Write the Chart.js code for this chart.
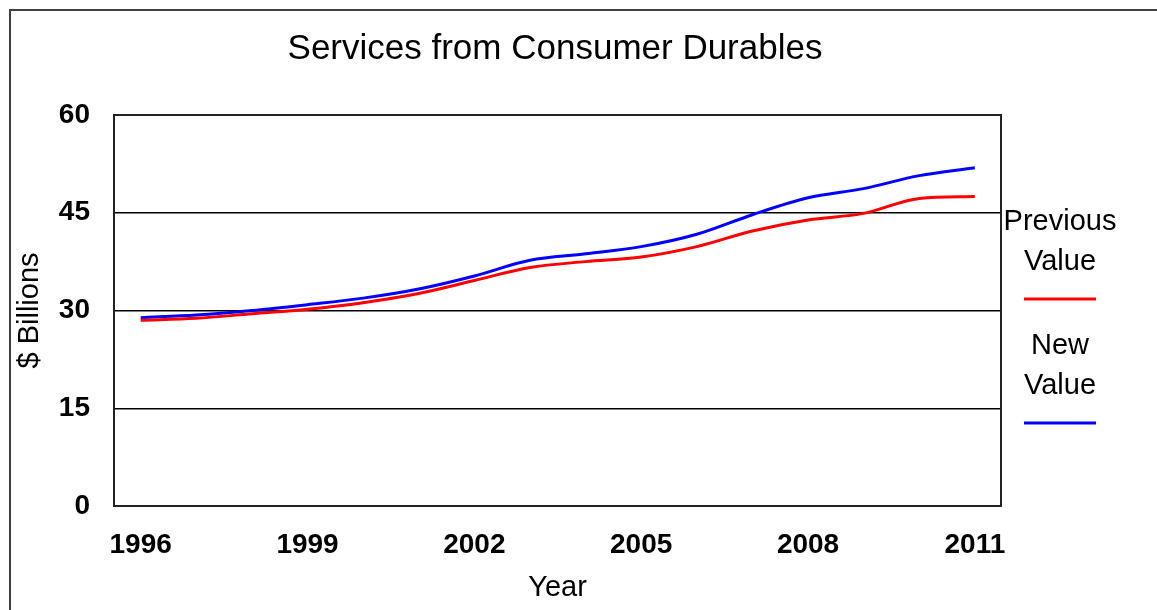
<!DOCTYPE html>
<html>
<head>
<meta charset="utf-8">
<script src="https://cdn.jsdelivr.net/npm/chart.js@4.4.1/dist/chart.umd.min.js"></script>
<style>
  html, body { margin: 0; padding: 0; background: #fff; }
  #wrap { position: relative; width: 1157px; height: 610px; }
</style>
</head>
<body>
<div id="wrap"><canvas id="chart" width="1157" height="610"></canvas></div>
<script>
// yearly values, $ billions
const years = [1996, 1997, 1998, 1999, 2000, 2001, 2002, 2003, 2004, 2005, 2006, 2007, 2008, 2009, 2010, 2011]
const previousValue = [28.5, 28.8, 29.5, 30.2, 31.2, 32.6, 34.6, 36.6, 37.5, 38.2, 39.8, 42.2, 43.9, 44.9, 47.2, 47.5]
const newValue = [28.9, 29.3, 30.0, 30.9, 31.9, 33.3, 35.3, 37.7, 38.7, 39.8, 41.7, 44.7, 47.3, 48.7, 50.7, 51.9]
const xTicks = [1996, 1999, 2002, 2005, 2008, 2011]
const yTicks = [0, 15, 30, 45, 60]

const FONT = "'Liberation Sans', Arial, sans-serif"

// outer frame, plot box and the stacked legend on the right
const decorations = {
    id: 'decorations',
    beforeDraw(chart) {
        const ctx = chart.ctx
        ctx.save()
        ctx.fillStyle = '#fff'
        ctx.fillRect(0, 0, chart.width, chart.height)
        ctx.strokeStyle = '#404040'
        ctx.lineWidth = 2
        ctx.beginPath()
        ctx.moveTo(10, chart.height)
        ctx.lineTo(10, 10)
        ctx.lineTo(chart.width, 10)
        ctx.stroke()
        ctx.restore()
    },
    afterDraw(chart) {
        const ctx = chart.ctx
        const a = chart.chartArea
        ctx.save()
        ctx.strokeStyle = '#222'
        ctx.lineWidth = 2
        ctx.strokeRect(a.left, a.top, a.right - a.left, a.bottom - a.top)

        // legend: label split over two lines, swatch line underneath
        const cx = 1060
        let y = 222
        ctx.font = '29px ' + FONT
        ctx.textAlign = 'center'
        ctx.textBaseline = 'middle'
        chart.data.datasets.forEach((ds) => {
            ds.label.split(' ').forEach((word) => {
                ctx.fillStyle = '#000'
                ctx.fillText(word, cx, y)
                y += 40
            })
            ctx.strokeStyle = ds.borderColor
            ctx.lineWidth = 3
            ctx.beginPath()
            ctx.moveTo(cx - 36, y - 3)
            ctx.lineTo(cx + 36, y - 3)
            ctx.stroke()
            y += 44
        })
        ctx.restore()
    }
}

new Chart(document.getElementById('chart'), {
    type: 'line',
    data: {
        datasets: [
            {
                label: 'Previous Value',
                data: years.map((yr, i) => ({ x: yr, y: previousValue[i] })),
                borderColor: '#ff0000',
                borderWidth: 3,
                pointRadius: 0,
                cubicInterpolationMode: 'monotone',
            },
            {
                label: 'New Value',
                data: years.map((yr, i) => ({ x: yr, y: newValue[i] })),
                borderColor: '#0000ff',
                borderWidth: 3,
                pointRadius: 0,
                cubicInterpolationMode: 'monotone',
            },
        ]
    },
    options: {
        responsive: false,
        animation: false,
        layout: { padding: { left: 0, right: 47, top: 0, bottom: 0 } },
        plugins: {
            legend: { display: false },
            tooltip: { enabled: false },
            title: {
                display: true,
                text: 'Services from Consumer Durables',
                color: '#000',
                font: { family: FONT, size: 35, weight: 'normal' },
                padding: { top: 28, bottom: 45 },
            },
        },
        scales: {
            x: {
                type: 'linear',
                min: 1995.52,
                max: 2011.47,
                afterBuildTicks: (scale) => { scale.ticks = xTicks.map((v) => ({ value: v })) },
                afterFit: (scale) => { scale.height = 104 },
                grid: { display: false, drawTicks: false },
                border: { display: false },
                ticks: {
                    color: '#000',
                    padding: 22,
                    maxRotation: 0,
                    autoSkip: false,
                    font: { family: FONT, size: 28, weight: 'bold' },
                    callback: (v) => String(v),
                },
                title: {
                    display: true,
                    text: 'Year',
                    color: '#000',
                    font: { family: FONT, size: 29 },
                    padding: { top: 0, bottom: 5 },
                },
            },
            y: {
                min: 0,
                max: 60,
                afterBuildTicks: (scale) => { scale.ticks = yTicks.map((v) => ({ value: v })) },
                afterFit: (scale) => { scale.width = 114 },
                grid: {
                    drawTicks: false,
                    color: (c) => (c.tick.value === 0 || c.tick.value === 60) ? 'rgba(0,0,0,0)' : '#000',
                    lineWidth: 1.5,
                },
                border: { display: false },
                ticks: {
                    color: '#000',
                    padding: 24,
                    font: { family: FONT, size: 28, weight: 'bold' },
                },
                title: {
                    display: true,
                    text: '$ Billions',
                    color: '#000',
                    font: { family: FONT, size: 29 },
                    padding: { top: 13, bottom: 0 },
                },
            },
            // empty axis that only reserves room for the legend
            yRight: {
                position: 'right',
                afterFit: (scale) => { scale.width = 109 },
                grid: { display: false, drawTicks: false },
                border: { display: false },
                ticks: { display: false },
            },
        }
    },
    plugins: [decorations]
})
</script>
</body>
</html>
